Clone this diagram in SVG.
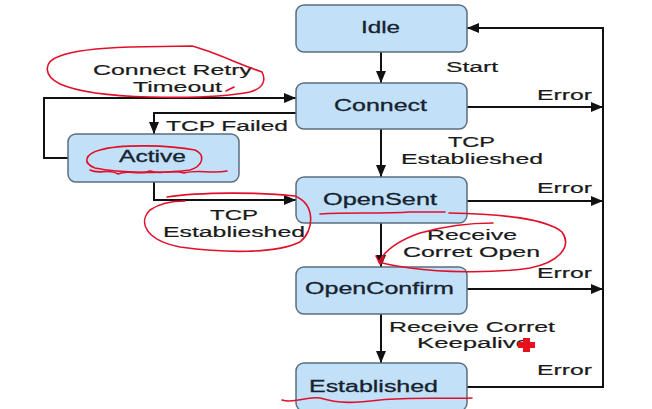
<svg xmlns="http://www.w3.org/2000/svg" width="652" height="409" viewBox="0 0 652 409">
<defs>
<style>
.node rect{fill:#c2e0f8;stroke:#5b6e7e;stroke-width:1.5}
.node text{font-family:"Liberation Sans",Arial,sans-serif;font-size:16px;fill:#16232f;stroke:#16232f;stroke-width:0.3}
.lbl{font-family:"Liberation Sans",Arial,sans-serif;font-size:15.5px;fill:#1a1a1a;stroke:#1a1a1a;stroke-width:0.2}
.edge{fill:none;stroke:#111;stroke-width:2}
.red{fill:none;stroke:#e0102a;stroke-width:1.6;stroke-linecap:round;stroke-linejoin:round}
</style>
<marker id="ah" markerUnits="userSpaceOnUse" markerWidth="12" markerHeight="10" refX="12" refY="5" orient="auto">
<path d="M0,0 L12,5 L0,10 z" fill="#111"/>
</marker>
</defs>
<rect width="652" height="409" fill="#fff"/>

<g id="connectors">
<path class="edge" d="M381,52 V83" marker-end="url(#ah)"/>
<path class="edge" d="M381,129 V177" marker-end="url(#ah)"/>
<path class="edge" d="M381,223 V267" marker-end="url(#ah)"/>
<path class="edge" d="M381,314 V363" marker-end="url(#ah)"/>
<path class="edge" d="M467,107 H603" marker-end="url(#ah)"/>
<path class="edge" d="M467,201 H603" marker-end="url(#ah)"/>
<path class="edge" d="M467,289 H603" marker-end="url(#ah)"/>
<path class="edge" d="M467,387 H603 V28 H467" marker-end="url(#ah)"/>
<path class="edge" d="M296,113 H154 V134" marker-end="url(#ah)"/>
<path class="edge" d="M68,158 H44 V98 H296" marker-end="url(#ah)"/>
<path class="edge" d="M154,182 V200 H296" marker-end="url(#ah)"/>
<text class="lbl" x="446" y="72" textLength="52" lengthAdjust="spacingAndGlyphs">Start</text>
<text class="lbl" x="537" y="100" textLength="55" lengthAdjust="spacingAndGlyphs">Error</text>
<text class="lbl" x="537" y="193" textLength="55" lengthAdjust="spacingAndGlyphs">Error</text>
<text class="lbl" x="537" y="278" textLength="55" lengthAdjust="spacingAndGlyphs">Error</text>
<text class="lbl" x="537" y="375" textLength="55" lengthAdjust="spacingAndGlyphs">Error</text>
<text class="lbl" x="448" y="147" textLength="47" lengthAdjust="spacingAndGlyphs">TCP</text>
<text class="lbl" x="401" y="164" textLength="142" lengthAdjust="spacingAndGlyphs">Establieshed</text>
<text class="lbl" x="427" y="240" textLength="90" lengthAdjust="spacingAndGlyphs">Receive</text>
<text class="lbl" x="403" y="257" textLength="137" lengthAdjust="spacingAndGlyphs">Corret Open</text>
<text class="lbl" x="389" y="332" textLength="166" lengthAdjust="spacingAndGlyphs">Receive Corret</text>
<text class="lbl" x="417" y="348" textLength="113" lengthAdjust="spacingAndGlyphs">Keepalive</text>
<text class="lbl" x="166" y="131" textLength="122" lengthAdjust="spacingAndGlyphs">TCP Failed</text>
<text class="lbl" x="93" y="75" textLength="159" lengthAdjust="spacingAndGlyphs">Connect Retry</text>
<text class="lbl" x="133" y="92" textLength="89" lengthAdjust="spacingAndGlyphs">Timeout</text>
<text class="lbl" x="210" y="220" textLength="48" lengthAdjust="spacingAndGlyphs">TCP</text>
<text class="lbl" x="163" y="237" textLength="142" lengthAdjust="spacingAndGlyphs">Establieshed</text>
</g>

<g id="idle" class="node">
<rect x="296" y="5" width="171" height="47" rx="8"/>
<text x="361" y="33" textLength="39" lengthAdjust="spacingAndGlyphs">Idle</text>
</g>
<g id="connect" class="node">
<rect x="296" y="83" width="171" height="46" rx="8"/>
<text x="334" y="111" textLength="93" lengthAdjust="spacingAndGlyphs">Connect</text>
</g>
<g id="active" class="node">
<rect x="68" y="134" width="171" height="48" rx="8"/>
<text x="119" y="162" textLength="67" lengthAdjust="spacingAndGlyphs">Active</text>
</g>
<g id="opensent" class="node">
<rect x="296" y="177" width="171" height="46" rx="8"/>
<text x="323" y="205" textLength="114" lengthAdjust="spacingAndGlyphs">OpenSent</text>
</g>
<g id="openconfirm" class="node">
<rect x="296" y="267" width="171" height="47" rx="8"/>
<text x="305" y="294" textLength="149" lengthAdjust="spacingAndGlyphs">OpenConfirm</text>
</g>
<g id="established" class="node">
<rect x="296" y="363" width="171" height="48" rx="8"/>
<text x="309" y="392" textLength="129" lengthAdjust="spacingAndGlyphs">Established</text>
</g>

<g id="annotations">
<path class="red" d="M60,84 C44,76 42,62 60,56 C75,50 100,48 130,47 L192,46 C215,52 238,64 262,72 C266,80 264,88 250,92 C225,97 190,98 150,97 C110,96 78,92 60,84"/>
<path class="red" d="M226,91 L234,87"/>
<path class="red" d="M100,150 C120,144 170,145 195,150 C206,155 203,166 190,170 C165,174 120,173 95,168 C82,163 85,154 100,150"/>
<path class="red" d="M90,170 C100,175 108,168 118,174 C128,169 138,176 150,171 C162,175 172,169 184,173 C198,169 210,174 227,171"/>
<path class="red" d="M167,197 C200,192 260,192 295,196 C315,204 315,230 300,242 C275,254 225,253 180,247 C145,240 138,222 150,210 C160,203 175,201 185,201"/>
<path class="red" d="M320,214 C350,212 380,214 410,212 L445,212"/>
<path class="red" d="M449,213 C500,214 545,218 562,232 C572,246 560,262 530,268 C490,274 440,272 410,268 C395,266 385,264 379,262 C385,250 400,240 420,233 C445,226 470,223 493,223"/>
<path class="red" d="M376,256 L380,264 L384,257"/>
<path class="red" d="M282,400 C295,404 305,396 320,398 C340,404 355,403 380,400 C410,397 440,399 472,398"/>
<path d="M523,338 h7 v4 h5 v6 h-5 v4 h-7 v-4 h-5 v-6 h5 z" fill="#e8101c"/>
</g>
</svg>
